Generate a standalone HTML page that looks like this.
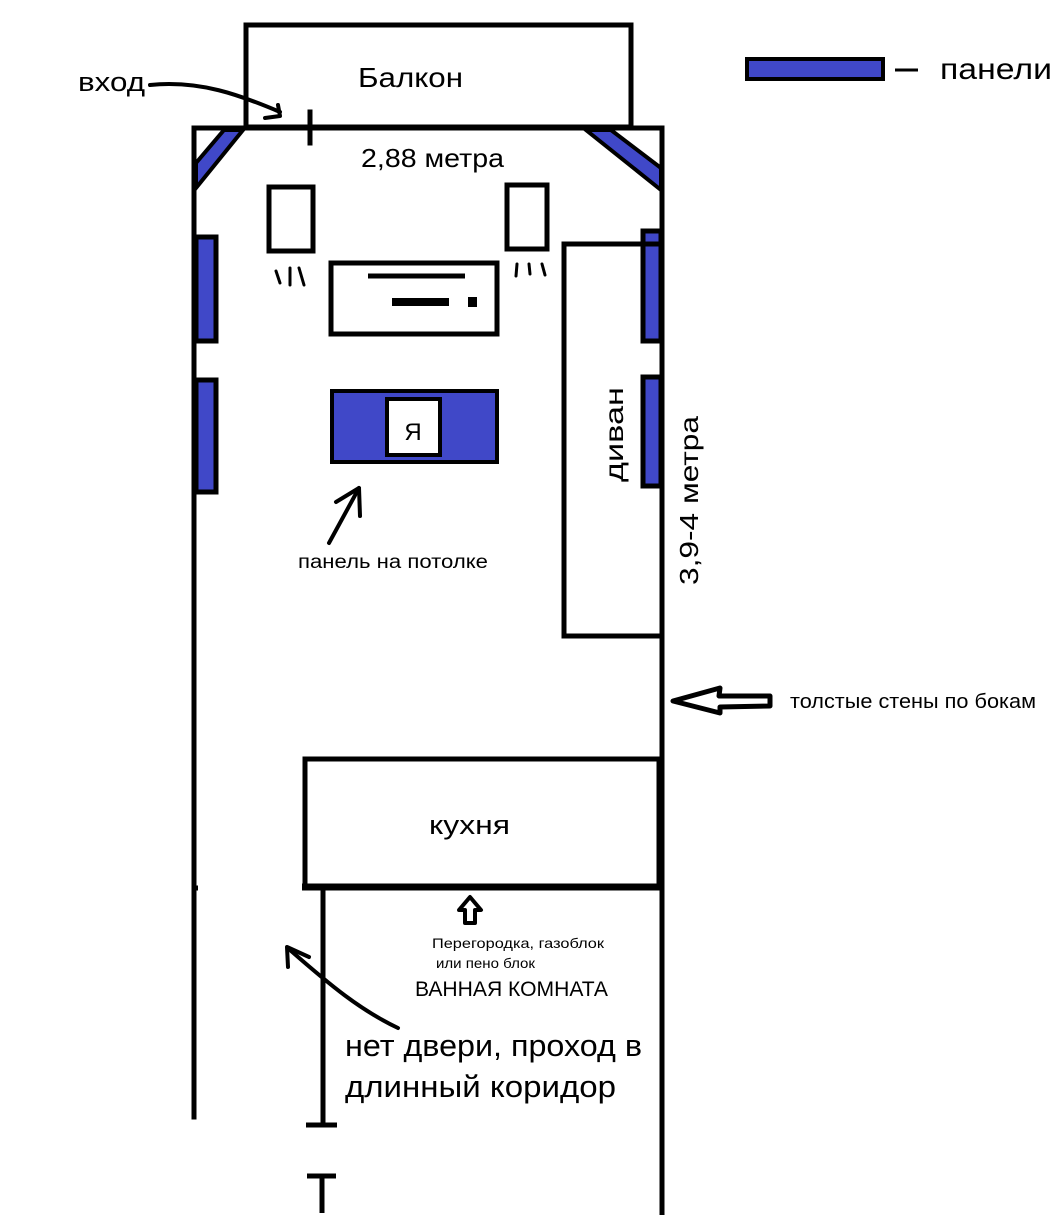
<!DOCTYPE html>
<html><head><meta charset="utf-8"><style>
html,body{margin:0;padding:0;background:#fff}
svg{display:block}
text{font-family:"Liberation Sans","DejaVu Sans",sans-serif;fill:#000}
</style></head><body>
<svg width="1059" height="1215" viewBox="0 0 1059 1215" xmlns="http://www.w3.org/2000/svg">
<g stroke="#000" stroke-width="5" fill="none" stroke-linecap="square">
<rect x="246" y="25" width="385" height="102" fill="#fff"/>
<line x1="194" y1="128" x2="662" y2="128"/>
<line x1="194" y1="128" x2="194" y2="1117"/>
<line x1="662" y1="128" x2="662" y2="1213"/>
<line x1="310" y1="112" x2="310" y2="143"/>
</g>
<polygon points="224,130 243,130 196,188 196,163" fill="#4048c8" stroke="#000" stroke-width="4"/>
<polygon points="586,130 611,130 661,168 661,190" fill="#4048c8" stroke="#000" stroke-width="4"/>
<g stroke="#000" stroke-width="5" fill="#4048c8">
<rect x="196" y="237" width="20" height="104"/>
<rect x="196" y="380" width="20" height="112"/>
<rect x="643" y="231" width="18" height="110"/>
<rect x="643" y="377" width="18" height="109"/>
</g>
<g stroke="#000" stroke-width="5" fill="none">
<rect x="269" y="187" width="44" height="64"/>
<rect x="507" y="185" width="40" height="64"/>
<rect x="331" y="263" width="166" height="71"/>
<rect x="564" y="244" width="98" height="392"/>
<rect x="305" y="759" width="355" height="127"/>
</g>
<line x1="660" y1="759" x2="660" y2="888" stroke="#000" stroke-width="7"/>
<line x1="302" y1="887" x2="662" y2="887" stroke="#000" stroke-width="7"/>
<line x1="368" y1="276" x2="465" y2="276" stroke="#000" stroke-width="5"/>
<line x1="392" y1="302" x2="449" y2="302" stroke="#000" stroke-width="8"/>
<rect x="468" y="297" width="9" height="10" fill="#000"/>
<g stroke="#000" stroke-width="3" stroke-linecap="round" fill="none">
<path d="M280 283 L276 271"/><path d="M290 285 L290 268"/><path d="M304 285 L299 268"/>
<path d="M516 276 L517 264"/><path d="M530 274 L529 264"/><path d="M545 275 L542 264"/>
</g>
<rect x="332" y="391" width="165" height="71" fill="#4048c8" stroke="#000" stroke-width="4"/>
<rect x="387" y="399" width="53" height="56" fill="#fff" stroke="#000" stroke-width="4"/>
<text x="413" y="440" font-size="24" text-anchor="middle">Я</text>
<g stroke="#000" stroke-width="5" fill="none">
<line x1="323" y1="887" x2="323" y2="1125"/>
<line x1="306" y1="1125" x2="337" y2="1125"/>
<line x1="307" y1="1176" x2="336" y2="1176"/>
<line x1="322" y1="1176" x2="322" y2="1213"/>
<line x1="192" y1="888" x2="198" y2="888"/>
</g>
<g stroke="#000" stroke-width="4" fill="none" stroke-linecap="round" stroke-linejoin="round">
<path d="M150 85 C200 80 240 95 280 112"/>
<path d="M265 118 L280 116 L278 105"/>
<path d="M329 543 L359 488"/>
<path d="M336 502 L359 488 L360 516"/>
<path d="M398 1028 C360 1010 330 985 290 950"/>
<path d="M288 967 L287 947 L309 957"/>
<path d="M673 701 L720 688 L719 696 L770 696 L770 706 L720 707 L720 713 Z" stroke-width="5"/>
<path d="M470 897 L481 910 L475 910 L475 923 L465 923 L465 910 L459 910 Z" stroke-width="4"/>
</g>
<rect x="747" y="59" width="136" height="20" fill="#4048c8" stroke="#000" stroke-width="4"/>
<line x1="895" y1="70" x2="918" y2="70" stroke="#000" stroke-width="3"/>
<text x="940" y="79" font-size="30" textLength="112" lengthAdjust="spacingAndGlyphs">панели</text>
<text x="78" y="91" font-size="27" textLength="67" lengthAdjust="spacingAndGlyphs">вход</text>
<text x="358" y="87" font-size="28" textLength="105" lengthAdjust="spacingAndGlyphs">Балкон</text>
<text x="361" y="167" font-size="26" textLength="143" lengthAdjust="spacingAndGlyphs">2,88 метра</text>
<text x="298" y="568" font-size="19" textLength="190" lengthAdjust="spacingAndGlyphs">панель на потолке</text>
<text font-size="26" transform="translate(623,435) rotate(-90)" x="-47" textLength="95" lengthAdjust="spacingAndGlyphs">диван</text>
<text font-size="26" transform="translate(698,500) rotate(-90)" x="-85" textLength="169" lengthAdjust="spacingAndGlyphs">3,9-4 метра</text>
<text x="790" y="708" font-size="20" textLength="246" lengthAdjust="spacingAndGlyphs">толстые стены по бокам</text>
<text x="429" y="834" font-size="27" textLength="81" lengthAdjust="spacingAndGlyphs">кухня</text>
<text x="432" y="948" font-size="14" textLength="172" lengthAdjust="spacingAndGlyphs">Перегородка, газоблок</text>
<text x="436" y="968" font-size="14" textLength="99" lengthAdjust="spacingAndGlyphs">или пено блок</text>
<text x="415" y="996" font-size="21" textLength="193" lengthAdjust="spacingAndGlyphs">ВАННАЯ КОМНАТА</text>
<text x="345" y="1056" font-size="31" textLength="297" lengthAdjust="spacingAndGlyphs">нет двери, проход в</text>
<text x="345" y="1097" font-size="31" textLength="271" lengthAdjust="spacingAndGlyphs">длинный коридор</text>
</svg>
</body></html>
